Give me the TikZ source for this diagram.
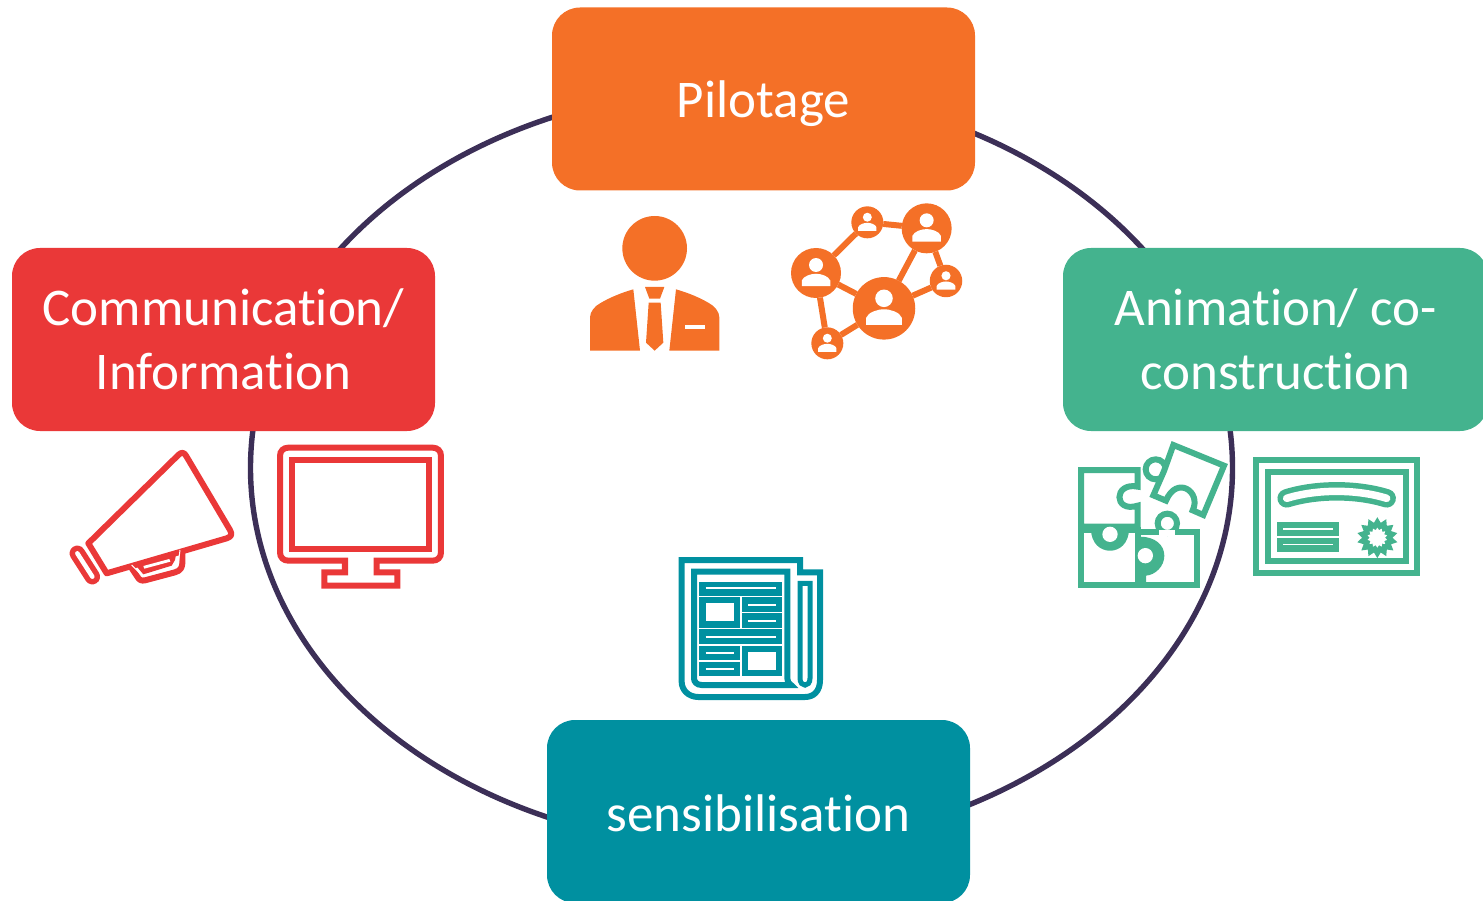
\documentclass[tikz,border=0pt]{standalone}
\usepackage{fontspec}
\setmainfont[Ligatures=NoCommon]{Carlito}
\usetikzlibrary{shapes.geometric}
\definecolor{cOrange}{HTML}{F47027}
\definecolor{cRed}{HTML}{EA3838}
\definecolor{cGreen}{HTML}{44B38E}
\definecolor{cTeal}{HTML}{0090A0}
\definecolor{cRing}{HTML}{3C2F57}
\tikzset{
  box/.style={rounded corners=28pt,minimum width=423pt,minimum height=183pt,inner sep=0pt,outer sep=0pt,text=white,align=center,font=\fontsize{53}{64}\selectfont},
  zoomed/.style={x=0.33333pt,y=-0.33333pt},
  netnode/.style={circle,fill=cOrange,inner sep=0pt,outer sep=0pt},
  netlink/.style={cOrange,line width=6pt},
  outline/.style={line width=6pt,line join=miter},
}
\newcommand{\netuser}[3]{%
  \begin{scope}[shift={(#1,#2)},scale=#3]
    \fill[white] (0,-0.32) circle [radius=0.28];
    \fill[white] (-0.57,0.53) -- (-0.57,0.3) .. controls (-0.5,0.12) and (-0.2,0.03) .. (0,0.03)
      .. controls (0.2,0.03) and (0.5,0.12) .. (0.57,0.3) -- (0.57,0.53) -- cycle;
  \end{scope}}
\begin{document}
\begin{tikzpicture}[x=1pt,y=-1pt]
\useasboundingbox (0,0) rectangle (1483,901);
\clip (0,0) rectangle (1483,901);
% ring
\draw[cRing,line width=5.4pt] (741.5,468) ellipse [x radius=491,y radius=380];
% boxes
\node[box,fill=cOrange] (pilot) at (763.5,99) {\raisebox{-19pt}[0pt][0pt]{Pilotage}};
\node[box,fill=cRed] (comm) at (223.5,339.5) {Communication/\\Information};
\node[box,fill=cGreen,minimum width=425pt] (anim) at (1275.5,339.5) {Animation/ co-\\construction};
\node[box,fill=cTeal] (sens) at (758.5,811.5) {\raisebox{-20pt}[0pt][0pt]{sensibilisation}};

% person
\begin{scope}[shift={(570,190)},zoomed]
  \fill[cOrange] (254,175) circle [radius=97];
  \fill[cOrange] (60,482) -- (60,382) .. controls (60,365) and (75,348) .. (90,340)
     .. controls (120,322) and (155,308) .. (190,298) -- (210,482) -- cycle;
  \fill[cOrange] (448,482) -- (448,382) .. controls (448,365) and (433,348) .. (418,340)
     .. controls (388,322) and (353,308) .. (318,298) -- (298,482) -- cycle;
  \fill[cOrange] (225,291) -- (283,291) -- (270,326) -- (238,326) -- cycle;
  \fill[cOrange] (236,338) -- (272,338) -- (280,458) -- (254,482) -- (228,458) -- cycle;
  \fill[white] (345,404) rectangle (405,417);
  % network
  \node[netnode,minimum size=50pt] (n1) at (738,249) {};
  \node[netnode,minimum size=32pt] (n2) at (892,97) {};
  \node[netnode,minimum size=50pt] (n3) at (1070,115) {};
  \node[netnode,minimum size=32.5pt] (n4) at (1128,273) {};
  \node[netnode,minimum size=62.5pt] (n5) at (942,355) {};
  \node[netnode,minimum size=32pt] (n6) at (772,460) {};
  \draw[netlink] (n1) -- (n2);
  \draw[netlink] (n2) -- (n3);
  \draw[netlink] (n3) -- (n5);
  \draw[netlink] (n3) -- (n4);
  \draw[netlink] (n4) -- (n5);
  \draw[netlink] (n1) -- (n5);
  \draw[netlink] (n1) -- (n6);
  \draw[netlink] (n6) -- (n5);
  \netuser{738}{249}{75}
  \netuser{892}{97}{48}
  \netuser{1070}{115}{75}
  \netuser{1128}{273}{49}
  \netuser{942}{355}{94}
  \netuser{772}{460}{48}
\end{scope}

% megaphone and monitor
\begin{scope}[shift={(60,435)},zoomed,cRed]
  \draw[outline,line join=round] (85,325) -- (355,60) .. controls (365,50) and (372,52) .. (378,62)
     -- (510,285) .. controls (517,298) and (515,305) .. (500,310) -- (140,415) -- cycle;
  \draw[line width=15.5pt,line cap=round] (52,355) -- (97,425);
  \draw[white,line width=4.5pt,line cap=round] (52,355) -- (97,425);
  \draw[outline,line join=round] (210,392) -- (232,425) .. controls (238,436) and (245,438) .. (255,436)
     -- (345,412) .. controls (362,407) and (366,398) .. (367,385) -- (367,345);
  \fill (222,385) -- (350,348) -- (345,375) -- (335,392) -- (250,418) -- cycle;
  \draw[white,line width=1pt] (215,390) -- (248,423) -- (340,397) -- (356,378) -- (360,345);
  \fill[white] (250,393) -- (328,372) -- (331,380) -- (253,401) -- cycle;
  % monitor
  \draw[outline] (855,377) -- (685,377) .. controls (670,377) and (660,367) .. (660,352)
     -- (660,63) .. controls (660,48) and (670,38) .. (685,38) -- (1118,38)
     .. controls (1133,38) and (1143,48) .. (1143,63) -- (1143,352)
     .. controls (1143,367) and (1133,377) .. (1118,377) -- (950,377)
     -- (950,412) -- (1012,412) -- (1012,452) -- (793,452) -- (793,412) -- (855,412) -- cycle;
  \draw[outline] (697,75) rectangle (1108,342);
\end{scope}

% puzzle and certificate
\begin{scope}[shift={(1070,435)},zoomed,cGreen]
  % top-left piece
  \draw[outline] (33,105) -- (203,105) -- (203,155) .. controls (130,140) and (130,235) .. (203,212)
     -- (203,275) -- (33,275) -- cycle;
  % bottom-left piece
  \draw[outline] (33,285) rectangle (203,450);
  \fill (62,283) .. controls (62,370) and (178,370) .. (178,283) -- cycle;
  \fill[white] (120,298) circle [radius=23];
  % bottom-right piece
  \draw[outline] (203,292) rectangle (380,450);
  \fill (195,305) -- (210,305) .. controls (255,305) and (283,330) .. (283,362)
     .. controls (283,395) and (255,420) .. (228,422) -- (228,450) -- (195,450) -- cycle;
  \fill[white] (226,362) circle [radius=23];
  \filldraw[line width=6pt,fill=white] (292,265) circle [radius=29];
  \fill[white] (268,302) rectangle (318,286);
  \draw[outline] (203,292) -- (268,292);
  \draw[outline] (316,292) -- (380,292);
  % top-right piece
  \filldraw[line width=6pt,fill=white] (257,103) circle [radius=30];
  \filldraw[outline,fill=white] (310,30) -- (462,92) -- (400,240) -- (368,226)
     .. controls (395,170) and (320,120) .. (288,197) -- (250,181) -- (282,108) -- cycle;
  % certificate
  \draw[line width=6pt] (558,75) rectangle (1042,415);
  \draw[line width=6pt] (595,110) rectangle (1007,377);
  \draw[line width=18.5pt,line cap=round] (650,190) .. controls (740,162) and (860,162) .. (950,190);
  \draw[white,line width=7.5pt,line cap=round] (650,190) .. controls (740,162) and (860,162) .. (950,190);
  \fill (622,260) rectangle (808,303);
  \fill (622,308) rectangle (808,350);
  \draw[white,line width=1.6pt] (640,282) -- (790,282);
  \draw[white,line width=1.6pt] (640,328) -- (790,328);
  \node[star,star points=14,star point ratio=1.35,fill=cGreen,minimum size=41pt,inner sep=0pt] (seal) at (922,308) {};
  \node[star,star points=14,star point ratio=1.3,fill=white,minimum size=20pt,inner sep=0pt] (sealcore) at (922,308) {};
\end{scope}

% newspaper
\begin{scope}[shift={(670,550)},zoomed,cTeal]
  \draw[outline] (35,30) -- (390,30) -- (390,67) -- (450,67) -- (450,390)
     .. controls (450,425) and (430,441) .. (405,441) -- (85,441)
     .. controls (55,441) and (35,420) .. (35,395) -- cycle;
  \draw[outline] (72,65) -- (352,65) -- (352,385) .. controls (352,395) and (355,400) .. (363,405)
     -- (95,405) .. controls (80,405) and (72,395) .. (72,385) -- cycle;
  \draw[line width=5pt] (395,100) -- (420,100) -- (420,385) .. controls (420,412) and (390,412) .. (390,385) -- (390,100) -- cycle;
  \fill (88,95) rectangle (335,137);
  \fill (88,142) rectangle (210,233);
  \fill (215,142) rectangle (335,185);
  \fill (215,190) rectangle (335,233);
  \fill (88,238) rectangle (335,282);
  \fill (88,288) rectangle (210,330);
  \fill (88,335) rectangle (210,378);
  \fill (215,288) rectangle (335,378);
  \fill[white] (107,160) rectangle (192,213);
  \fill[white] (233,305) rectangle (318,360);
  \foreach \a/\b/\c in {107/318/115,235/318/164,235/318/212,107/318/260,107/192/309,107/192/356}
    \draw[white,line width=1.8pt] (\a,\c) -- (\b,\c);
\end{scope}
\end{tikzpicture}
\end{document}
